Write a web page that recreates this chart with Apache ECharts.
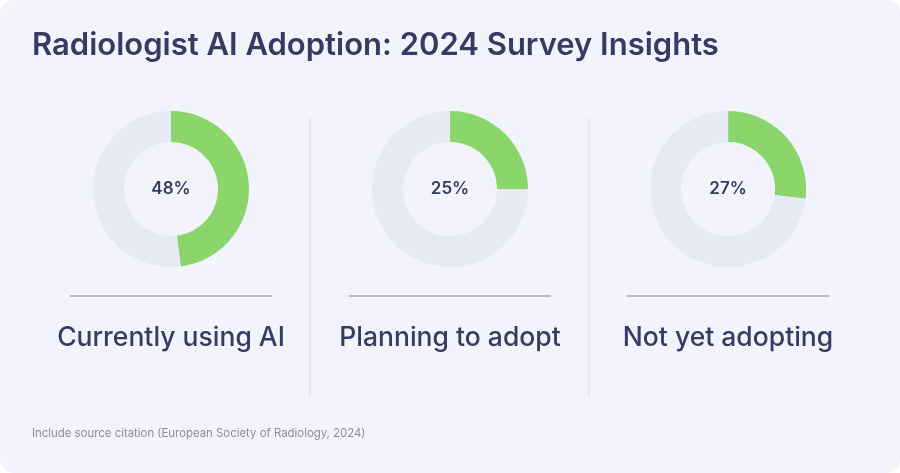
<!DOCTYPE html>
<html>
<head>
<meta charset="utf-8">
<script src="https://cdn.jsdelivr.net/npm/echarts@6/dist/echarts.min.js"></script>
<style>
  html, body { margin: 0; padding: 0; background: #ffffff; }
  #chart { width: 900px; height: 473px; }
</style>
</head>
<body>
<div id="chart"></div>
<script>
const categories = ["Currently using AI", "Planning to adopt", "Not yet adopting"];
const shares = [48, 25, 27];
const centersX = ["19%", "50%", "80.9%"];

const ink = "#383a62";
const green = "#8ad66a";
const track = "#e6eaf4";

var myChart = echarts.init(document.getElementById("chart"));

var series = categories.map(function(name, i) {
  return {
    name: name,
    type: "pie",
    center: [centersX[i], 189],
    radius: [47, 78],
    startAngle: 90,
    silent: true,
    label: {
      show: true,
      position: "center",
      formatter: function() { return shares[i] + "%"; },
      fontFamily: "Inter",
      fontSize: 17,
      fontWeight: 600,
      color: ink,
    },
    labelLine: { show: false },
    data: [
      { value: shares[i], itemStyle: { color: green } },
      { value: 100 - shares[i], itemStyle: { color: track }, label: { show: false } },
    ],
  };
});

var graphics = [
  {
    type: "rect",
    z: -10,
    shape: { x: 0, y: 0, width: 900, height: 473, r: 14 },
    style: { fill: "#f3f4fb" },
  },
  {
    type: "text",
    x: 32,
    y: 46,
    style: {
      text: "Radiologist AI Adoption: 2024 Survey Insights",
      font: "600 31px Inter",
      fill: ink,
      verticalAlign: "middle",
    },
  },
  {
    type: "text",
    x: 32,
    y: 434,
    style: {
      text: "Include source citation (European Society of Radiology, 2024)",
      font: "11.4px Inter",
      fill: "#8a8c98",
      verticalAlign: "middle",
    },
  },
];

[310, 589].forEach(function(x) {
  graphics.push({
    type: "line",
    shape: { x1: x, y1: 118, x2: x, y2: 396 },
    style: { stroke: "#d9dbe3", lineWidth: 1 },
  });
});

var colX = [171, 450, 728];
categories.forEach(function(name, i) {
  graphics.push({
    type: "line",
    shape: { x1: colX[i] - 101, y1: 296, x2: colX[i] + 101, y2: 296 },
    style: { stroke: "#7c7f9c", lineWidth: 1.2 },
  });
  graphics.push({
    type: "text",
    x: colX[i],
    y: 338,
    style: {
      text: name,
      font: "500 26.5px Inter",
      fill: ink,
      align: "center",
      verticalAlign: "middle",
    },
  });
});

var option = {
  animation: false,
  graphic: graphics,
  series: series,
};

myChart.setOption(option);
</script>
</body>
</html>
